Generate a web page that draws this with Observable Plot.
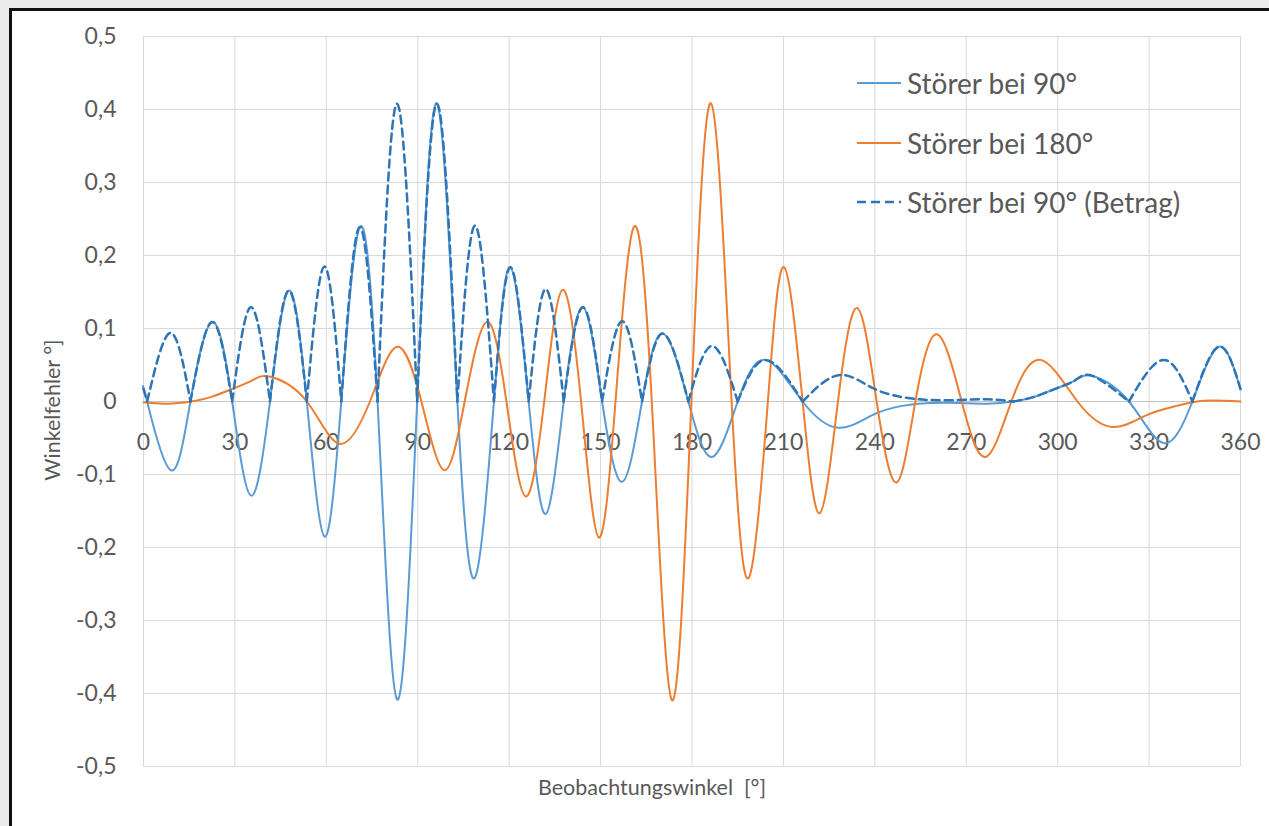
<!DOCTYPE html>
<html><head><meta charset="utf-8">
<script src="https://cdn.jsdelivr.net/npm/d3@7"></script>
<script src="https://cdn.jsdelivr.net/npm/@observablehq/plot@0.6"></script>
<style>
body{margin:0;background:#ebebeb;width:1269px;height:826px;overflow:hidden;position:relative;font-family:Lato,"Open Sans",sans-serif;color:#595959}
#frame{position:absolute;left:9px;top:8px;width:1300px;height:900px;border:3px solid #111;background:#fff;box-sizing:border-box}
#chart{position:absolute;left:0;top:0}
.ylab{position:absolute;left:52px;top:410px;transform:translate(-50%,-50%) rotate(-90deg);font-size:21.5px;white-space:pre}
.xlab{position:absolute;left:652px;top:787px;transform:translate(-50%,-50%);font-size:21.5px;white-space:pre}
.leg{position:absolute;left:857px;height:34px;display:flex;align-items:center;font-size:28px;white-space:pre;transform:translateY(-50%)}
.leg svg{margin-right:6px}
</style></head>
<body>
<div id="frame"></div>
<div id="chart"></div>
<div class="ylab">Winkelfehler °]</div>
<div class="xlab">Beobachtungswinkel  [°]</div>
<div class="leg" style="top:83px"><svg width="44" height="6"><line x1="0" x2="44" y1="3" y2="3" stroke="#5b9bd5" stroke-width="2"/></svg>Störer bei 90°</div>
<div class="leg" style="top:143px"><svg width="44" height="6"><line x1="0" x2="44" y1="3" y2="3" stroke="#ed7d31" stroke-width="2"/></svg>Störer bei 180°</div>
<div class="leg" style="top:202px"><svg width="44" height="6"><line x1="0" x2="44" y1="3" y2="3" stroke="#2e75b6" stroke-width="2.5" stroke-dasharray="9,5"/></svg>Störer bei 90° (Betrag)</div>
<script>
// Tick values
const xTicks = [0, 30, 60, 90, 120, 150, 180, 210, 240, 270, 300, 330, 360];
const yTicks = [-0.5, -0.4, -0.3, -0.2, -0.1, 0, 0.1, 0.2, 0.3, 0.4, 0.5];

// Störer bei 90°
const blueX = [0, 1.2, 8.9, 15.4, 22.6, 29.1, 35.3, 41.5, 47.7, 53.6, 59.4, 64.9, 71.0, 76.8, 83.2, 89.8, 96.3, 103.0, 108.8, 115.0, 120.4, 126.4, 132.0, 137.9, 144.2, 150.5, 157.1, 163.6, 170.4, 178.8, 186.6, 195.0, 204.1, 216.3, 228.0, 239.0, 249.0, 258.0, 268.0, 277.0, 285.5, 292.0, 299.0, 305.7, 311.5, 323.4, 334.8, 344.2, 352.9, 360];
const blueY = [0.017, 0, -0.094, 0, 0.109, 0, -0.129, 0, 0.152, 0, -0.185, 0, 0.239, 0, -0.408, 0, 0.408, 0, -0.241, 0, 0.184, 0, -0.154, 0, 0.129, 0, -0.110, 0, 0.093, 0, -0.076, 0, 0.057, 0, -0.036, -0.019, -0.006, -0.002, -0.002, -0.003, 0, 0.006, 0.017, 0.029, 0.035, 0, -0.057, 0, 0.075, 0.017];

// Störer bei 90° (Betrag) (same angles as above)
const betragY = [0.017, 0, 0.094, 0, 0.109, 0, 0.129, 0, 0.152, 0, 0.185, 0, 0.239, 0, 0.408, 0, 0.408, 0, 0.241, 0, 0.184, 0, 0.154, 0, 0.129, 0, 0.110, 0, 0.093, 0, 0.076, 0, 0.057, 0, 0.036, 0.019, 0.006, 0.002, 0.002, 0.003, 0, 0.006, 0.017, 0.029, 0.035, 0, 0.057, 0, 0.075, 0.017];

// Störer bei 180°
const orangeX = [0, 8.0, 15.5, 22.0, 29.0, 35.7, 41.7, 53.6, 64.3, 74.3, 83.2, 91.2, 98.7, 105.4, 112.7, 119.1, 125.4, 131.5, 137.5, 143.6, 149.4, 154.9, 160.9, 166.8, 173.4, 179.8, 186.3, 193.0, 198.7, 204.9, 210.2, 216.3, 221.9, 227.9, 234.2, 240.6, 247.1, 253.3, 260.4, 268.5, 276.3, 284.8, 294.4, 306.5, 318.0, 329.0, 339.0, 348.0, 360];
const orangeY = [-0.001, -0.003, 0, 0.006, 0.017, 0.029, 0.034, 0, -0.058, 0, 0.075, 0, -0.094, 0, 0.109, 0, -0.130, 0, 0.153, 0, -0.186, 0, 0.239, 0, -0.409, 0, 0.408, 0, -0.241, 0, 0.184, 0, -0.153, 0, 0.128, 0, -0.111, 0, 0.092, 0, -0.076, 0, 0.057, 0, -0.035, -0.019, -0.006, 0.001, 0];

const blue = blueX.map((x, i) => ({x, y: blueY[i]}));
const orange = orangeX.map((x, i) => ({x, y: orangeY[i]}));
// split the absolute-value curve into arches at its zero points
const betrag = [];
let seg = 0;
blueX.forEach((x, i) => {
  const y = betragY[i];
  betrag.push({x, y, seg});
  if (y === 0 && i > 0 && i < blueX.length - 1) { seg++; betrag.push({x, y, seg}); }
});

const fmt = d => d === 0 ? "0" : d.toFixed(1).replace(".", ",");

const chart = Plot.plot({
  width: 1269, height: 826,
  marginLeft: 143, marginRight: 29, marginTop: 36, marginBottom: 60,
  x: {domain: [0, 360], axis: null},
  y: {domain: [-0.5, 0.5]},
  style: {background: "transparent", fontFamily: "Lato, 'Open Sans', sans-serif", fontSize: "23px", color: "#595959", overflow: "visible"},
  marks: [
    Plot.gridX(xTicks, {stroke: "#d9d9d9", strokeOpacity: 1, strokeWidth: 1}),
    Plot.gridY(yTicks, {stroke: "#d9d9d9", strokeOpacity: 1, strokeWidth: 1}),
    Plot.ruleY([0], {stroke: "#c4c4c4", strokeWidth: 1}),
    Plot.axisY(yTicks, {tickSize: 0, tickPadding: 27, tickFormat: fmt, fill: "#595959", fontSize: 23, label: null}),
    Plot.text(xTicks, {x: d => d, y: 0, dy: 41, text: d => String(d), fill: "#595959", fontSize: 23}),
    Plot.line(blue, {x: "x", y: "y", curve: "natural", stroke: "#5b9bd5", strokeWidth: 2}),
    Plot.line(orange, {x: "x", y: "y", curve: "natural", stroke: "#ed7d31", strokeWidth: 2}),
    Plot.line(betrag, {x: "x", y: "y", z: "seg", curve: "natural", stroke: "#2e75b6", strokeWidth: 2.5, strokeDasharray: "8,5"})
  ]
});
document.getElementById("chart").appendChild(chart);
</script>
</body></html>
